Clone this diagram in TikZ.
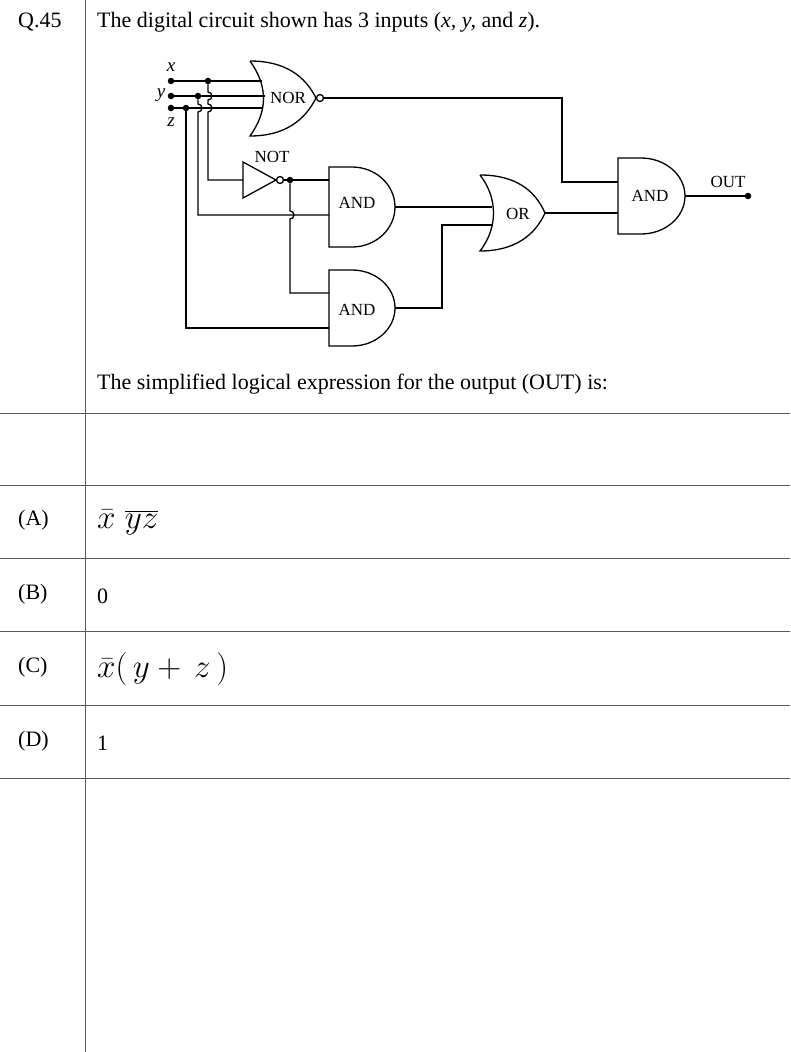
\documentclass[tikz,border=0pt]{standalone}
\usepackage{fontspec}
\setmainfont{Liberation Serif}
\usepackage{graphicx}
\begin{document}
\begin{tikzpicture}[x=1pt,y=-1pt,
  grid/.style={line width=0.6pt,gray!70!black},
  w/.style={line width=1.3pt},
  txt/.style={anchor=west,inner sep=0,font=\fontsize{22}{24}\selectfont},
  gl/.style={inner sep=0,font=\fontsize{17}{18}\selectfont},
  dot/.style={circle,fill,inner sep=0,minimum size=6.5pt}]
\useasboundingbox (0,0) rectangle (790,1052);
% table
\draw[grid] (85,0) -- (85,1052);
\foreach \yy in {413,485,558,631,705,778} \draw[grid] (0,\yy) -- (790,\yy);
\node[txt] (q) at (18,22) {Q.45};
\node[txt] (t1) at (97,22) {The digital circuit shown has 3 inputs (\textit{x, y,} and \textit{z}).};
\node[txt] (t2) at (97,384) {The simplified logical expression for the output (OUT) is:};
\node[txt] (la) at (18,520) {(A)};
\node[txt] (lb) at (18,594) {(B)};
\node[txt] (lc) at (18,667) {(C)};
\node[txt] (ld) at (18,741) {(D)};
\node[txt] (oa) at (97,522) {\scalebox{1.6}{$\bar{x}\;\overline{yz}$}};
\node[txt] (ob) at (97,596) {0};
\node[txt] (oc) at (97,669) {\scalebox{1.6}{$\bar{x}(\,y+\,z\,)$}};
\node[txt] (od) at (97,743) {1};
% inputs
\node[dot] (x) at (171,81) {}; \node[dot] (y) at (171,96) {}; \node[dot] (z) at (171,108) {};
\node[gl,font=\itshape\fontsize{19}{19}\selectfont] at (171,67) {x};
\node[gl,font=\itshape\fontsize{19}{19}\selectfont] at (161,95) {y};
\node[gl,font=\itshape\fontsize{19}{19}\selectfont] at (171,122) {z};
\node[dot] (jx) at (208,81) {}; \node[dot] (jy) at (198,96) {}; \node[dot] (jz) at (186,108) {};
\draw[w] (x) -- (262,81) (y) -- (265,96) (z) -- (262,108);
% NOR
\draw[w] (250,61) .. controls (268,86) and (268,111) .. (250,136)
  .. controls (285,136) and (305,120) .. (316,98)
  .. controls (305,76) and (285,61) .. (250,61);
\draw[w] (320,98) circle (3.5);
\node[gl] at (288,98) {NOR};
% NOT
\draw[w] (243,162) -- (243,198) -- (276,180) -- cycle;
\draw[w] (280,180) circle (3.5);
\node[gl] at (272,157) {NOT};
\node[dot] (jn) at (290,180) {};
% AND gates
\draw[w] (329,167) -- (352,167) arc[start angle=-90,end angle=90,x radius=43,y radius=40] -- (329,247) -- cycle;
\node[gl] at (357,203) {AND};
\draw[w] (329,270) -- (352,270) arc[start angle=-90,end angle=90,x radius=43,y radius=38] -- (329,346) -- cycle;
\node[gl] at (357,310) {AND};
\draw[w] (618,158) -- (641,158) arc[start angle=-90,end angle=90,x radius=44,y radius=38] -- (618,234) -- cycle;
\node[gl] at (650,196) {AND};
% OR
\draw[w] (480,175) .. controls (498,198) and (498,228) .. (480,251)
  .. controls (515,251) and (535,235) .. (545,213)
  .. controls (535,190) and (515,175) .. (480,175);
\node[gl] at (518,214) {OR};
% wires
\draw[w] (jx) -- (208,92) arc[start angle=-90,end angle=90,radius=4] -- (208,104) arc[start angle=-90,end angle=90,radius=4] -- (208,180) -- (243,180);
\draw[w] (jy) -- (198,104) arc[start angle=-90,end angle=90,radius=4] -- (198,215) -- (329,215);
\draw[w] (jz) -- (186,328) -- (329,328);
\draw[w] (283.5,180) -- (329,180);
\draw[w] (jn) -- (290,211) arc[start angle=-90,end angle=90,radius=4] -- (290,293) -- (329,293);
\draw[w] (395,207) -- (492,207);
\draw[w] (395,308) -- (442,308) -- (442,225) -- (492,225);
\draw[w] (323.5,98) -- (562,98) -- (562,182) -- (618,182);
\draw[w] (545,213) -- (618,213);
\node[dot] (out) at (748,196) {};
\draw[w] (685,196) -- (out);
\node[gl] at (728,182) {OUT};
\end{tikzpicture}
\end{document}
